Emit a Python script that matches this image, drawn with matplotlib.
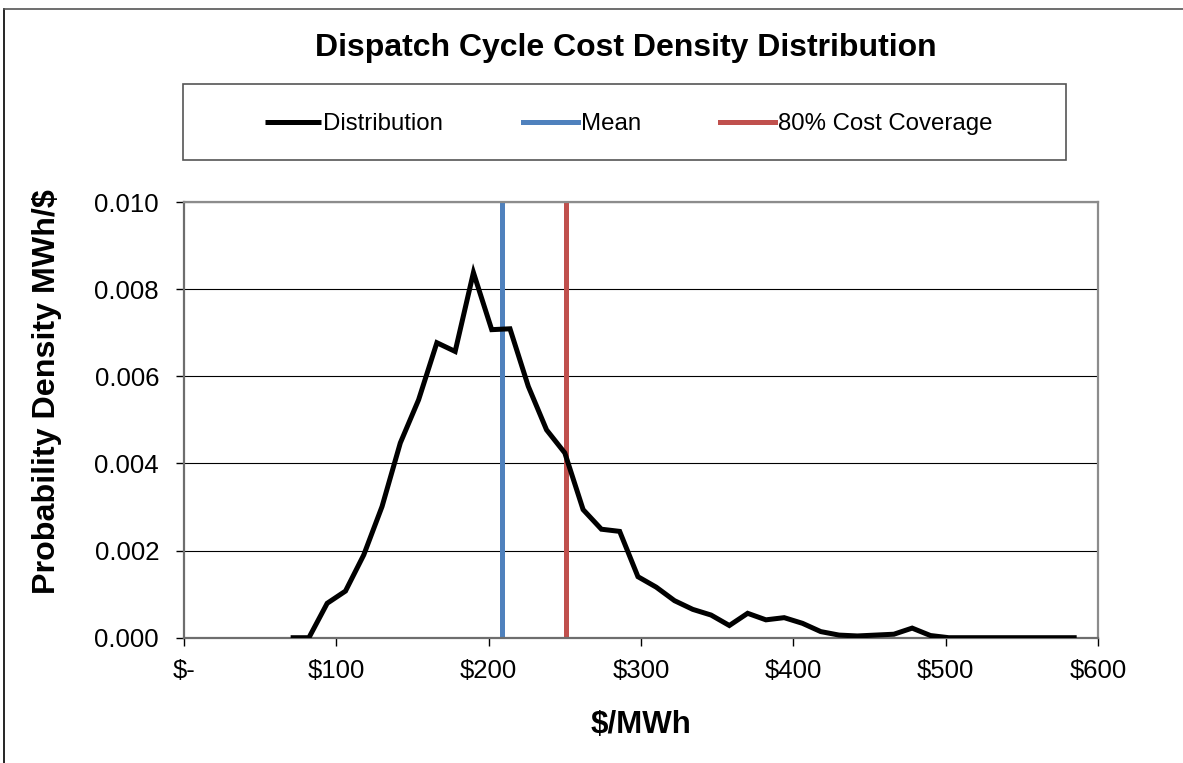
import matplotlib
matplotlib.use("Agg")
import matplotlib.pyplot as plt
from matplotlib.lines import Line2D
from matplotlib.patches import Rectangle

# ---- data ----
cost = [70, 82, 94, 106, 118, 130, 142, 154, 166, 178, 190, 202, 214, 226, 238,
        250, 262, 274, 286, 298, 310, 322, 334, 346, 358, 370, 382, 394, 406, 418,
        430, 442, 454, 466, 478, 490, 502, 514, 526, 538, 550, 562, 574, 586]
density = [0.0, 0.0, 0.00079, 0.00107, 0.0019, 0.00301, 0.00447, 0.00546, 0.00677,
           0.00657, 0.00838, 0.00707, 0.00709, 0.00577, 0.00477, 0.00424, 0.00294,
           0.00249, 0.00244, 0.0014, 0.00116, 0.00085, 0.00065, 0.00052, 0.00028,
           0.00056, 0.00041, 0.00046, 0.00033, 0.00014, 0.00006, 0.00004, 0.00006,
           0.00008, 0.00022, 0.00005, 0.0, 0.0, 0.0, 0.0, 0.0, 0.0, 0.0, 0.0]
mean_cost = 209
coverage_80 = 251
x_ticks = [0, 100, 200, 300, 400, 500, 600]
x_tick_labels = ["$-", "$100", "$200", "$300", "$400", "$500", "$600"]
y_ticks = [0.0, 0.002, 0.004, 0.006, 0.008, 0.010]
y_tick_labels = ["0.000", "0.002", "0.004", "0.006", "0.008", "0.010"]
series_names = ["Distribution", "Mean", "80% Cost Coverage"]

plt.rcParams['font.family'] = ['Liberation Sans', 'DejaVu Sans']

W, H = 1183, 763
fig = plt.figure(figsize=(W / 100, H / 100), dpi=100)
fig.patch.set_facecolor("white")

left, right, top, bottom = 184, 1098, 202, 637.7
ax = fig.add_axes([left / W, 1 - bottom / H, (right - left) / W, (bottom - top) / H])

blue = "#4F81BD"
red = "#C0504D"

ax.grid(axis="y", color="black", linewidth=0.8, zorder=0)
ax.set_axisbelow(True)
l1, = ax.plot(cost, density, color="black", linewidth=3.6, solid_joinstyle="miter",
              solid_capstyle="butt", zorder=3)
l2 = ax.axvline(mean_cost, color=blue, linewidth=3.6, zorder=2)
l3 = ax.axvline(coverage_80, color=red, linewidth=3.6, zorder=2)

ax.set_xlim(0, 600)
ax.set_ylim(0, 0.010)
ax.set_xticks(x_ticks)
ax.set_xticklabels(x_tick_labels)
ax.set_yticks(y_ticks)
ax.set_yticklabels(y_tick_labels)
ax.tick_params(axis="both", labelsize=18.5, direction="out", length=6, width=1,
               color="black")
ax.tick_params(axis="x", pad=9)
ax.tick_params(axis="y", pad=12)

for side in ["top", "right"]:
    ax.spines[side].set_color("#8c8c8c")
    ax.spines[side].set_linewidth(1.6)
for side in ["left", "bottom"]:
    ax.spines[side].set_color("#6e6e6e")
    ax.spines[side].set_linewidth(1.6)

ax.set_xlabel("$/MWh", fontsize=22.5, fontweight="bold", labelpad=20)
fig.text(47 / W, 1 - 392 / H, "Probability Density MWh/$", fontsize=23.2,
         fontweight="bold", rotation=90, ha="center", va="center")

fig.text(626 / W, 1 - 48 / H, "Dispatch Cycle Cost Density Distribution",
         fontsize=23, fontweight="bold", ha="center", va="center")

# legend box
lb_left, lb_right, lb_top, lb_bottom = 183, 1066, 84, 160
fig.add_artist(Rectangle((lb_left / W, 1 - lb_bottom / H), (lb_right - lb_left) / W,
                         (lb_bottom - lb_top) / H, transform=fig.transFigure,
                         facecolor="white", edgecolor="#555555", linewidth=1.2))
fig.legend([l1, l2, l3], series_names, loc="center",
           bbox_to_anchor=((263 + 995) / 2 / W, 1 - 124 / H), ncol=3, frameon=False,
           fontsize=17.3, handlelength=2.3, handletextpad=0.12, columnspacing=3.3)

# outer chart border (top and left only visible)
fig.add_artist(Line2D([4 / W, 4 / W], [0, 1 - 8.5 / H], transform=fig.transFigure,
                      color="black", linewidth=1.2))
fig.add_artist(Line2D([4 / W, 1], [1 - 8.5 / H, 1 - 8.5 / H], transform=fig.transFigure,
                      color="#555555", linewidth=1.2))

fig.savefig("out.png", dpi=100, facecolor="white")
